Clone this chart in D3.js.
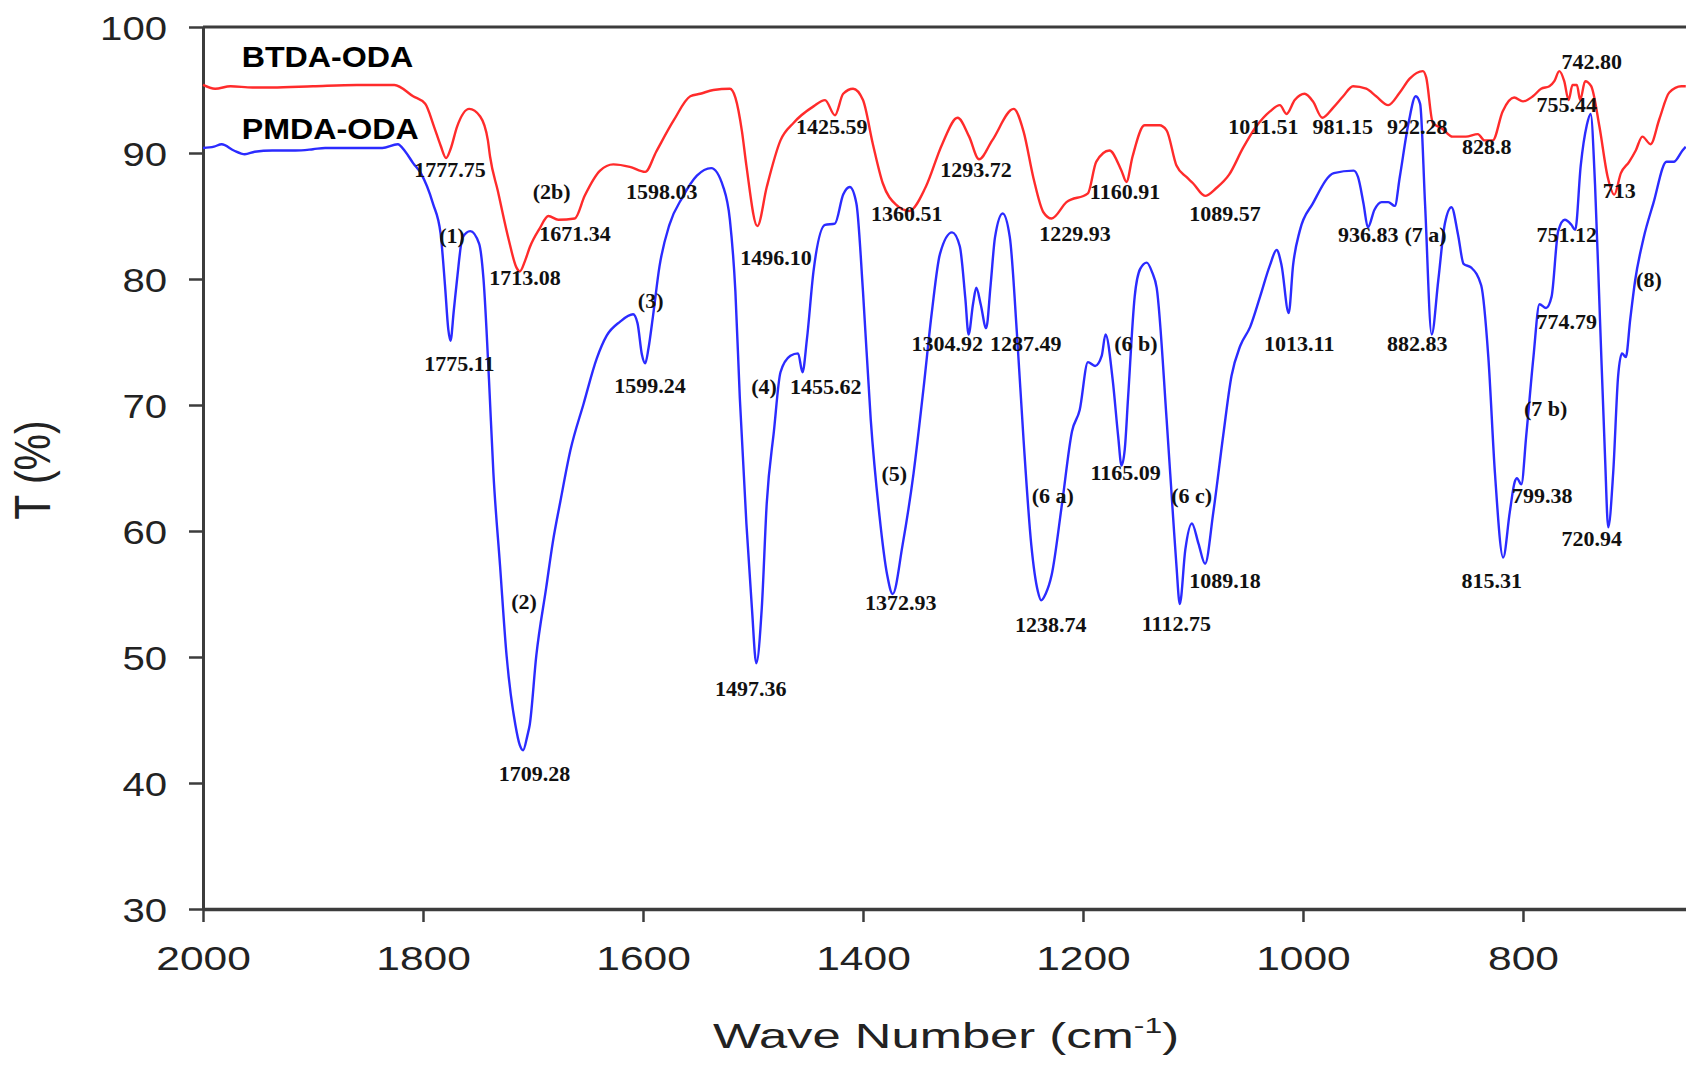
<!DOCTYPE html>
<html>
<head>
<meta charset="utf-8">
<script src="https://cdn.jsdelivr.net/npm/d3@7"></script>
<style>
  html, body { margin: 0; padding: 0; background: #fff; }
  svg { display: block; }
</style>
</head>
<body>
<svg id="chart" width="1686" height="1065"></svg>
<script>
// FTIR transmittance spectra: [wave number (cm-1), T (%)]
const pmdaOda = [
  [2000,90.4],[1990,90.5],[1983,90.7],[1972,90.2],[1962,89.9],[1953,90.1],[1937,90.2],[1916,90.2],
  [1900,90.3],[1889,90.4],[1860,90.4],[1837,90.4],[1823,90.7],[1816,90.1],[1809,89.2],[1802,88.4],
  [1791,86.0],[1784,83.6],[1780,79.5],[1777,76.0],[1775,75.1],[1772,77.5],[1769,80.0],[1764,83.3],
  [1757,83.8],[1749,82.8],[1745,80.0],[1740,72.0],[1736,64.6],[1730,57.3],[1724,50.1],[1716,44.6],
  [1712,43.0],[1709,42.6],[1705,43.8],[1703,44.6],[1697,50.1],[1688,55.5],[1682,59.1],[1675,62.4],
  [1666,66.4],[1654,70.1],[1642,73.7],[1633,75.5],[1621,76.6],[1609,77.2],[1605,76.5],[1601,74.0],
  [1598,73.3],[1595,74.5],[1591,77.0],[1585,81.0],[1576,84.3],[1564,86.5],[1551,88.2],[1538,88.8],
  [1527,87.3],[1521,84.7],[1516,79.0],[1512,70.6],[1506,60.6],[1501,53.9],[1497,49.5],[1492,53.9],
  [1487.5,62.2],[1481,67.9],[1475,72.6],[1466,73.9],[1459,74.1],[1455,72.6],[1451,75.2],[1445,80.6],
  [1434.5,84.3],[1425.5,84.4],[1418,86.7],[1412,87.3],[1406,86.0],[1400,79.0],[1393,68.9],[1385,61.2],
  [1378,56.5],[1373,55.0],[1364,58.9],[1354,64.6],[1345,71.3],[1337.5,77.3],[1330,82.0],[1319,83.7],
  [1312,82.6],[1307,78.5],[1304,75.6],[1300,78.0],[1297,79.3],[1293,78.0],[1288,76.1],[1284,79.5],
  [1280,83.3],[1273,85.2],[1266.5,83.3],[1260,75.6],[1254,67.2],[1247,58.9],[1241,55.2],[1238,54.5],
  [1234,55.0],[1228.5,56.5],[1219,62.2],[1210,67.9],[1203,69.6],[1195.5,73.4],[1189,73.1],[1183,73.9],
  [1179.5,75.6],[1173,72.0],[1168,67.5],[1165,65.2],[1162,66.5],[1159,70.6],[1153,78.6],[1148,80.8],
  [1142,81.3],[1137,80.5],[1133,79.3],[1124,68.9],[1118,61.0],[1115,57.2],[1112,54.2],[1107,58.5],
  [1101,60.6],[1095,59.0],[1089,57.4],[1081.5,61.5],[1072.5,67.6],[1065,72.3],[1057,74.7],[1048,76.2],
  [1039,78.6],[1030,81.1],[1024,82.3],[1019.5,81.1],[1013,77.3],[1009,81.1],[1003,83.8],[991,86.0],
  [972,88.4],[954,88.6],[950,88.1],[945,86.0],[941,84.1],[935,85.5],[928.5,86.1],[922.5,86.1],
  [916.5,85.8],[912,88.1],[904,92.4],[897.5,94.5],[893.5,93.9],[889,85.9],[883,75.6],[877,79.9],
  [871,84.4],[865,85.7],[859,83.5],[854,81.2],[847,80.9],[838,79.5],[831.5,73.8],[825.5,64.6],
  [818,57.9],[812,61.5],[807.5,63.9],[805.5,64.2],[801.5,63.7],[797,67.6],[790.5,73.8],[785,78.0],
  [779,77.7],[774,78.6],[768,83.8],[762,84.7],[756,84.3],[752.5,83.9],[747.5,89.0],[742,92.2],
  [738.5,93.1],[734.5,87.5],[730,76.8],[725.5,66.1],[722.5,60.3],[718,64.6],[713.5,72.3],[710,74.1],
  [706.5,73.8],[702.5,76.8],[698,79.9],[690.5,83.2],[681.5,86.0],[669.5,89.3],[663,89.3],[655,90.2],
  [652,90.5]
];

const btdaOda = [
  [2000,95.4],[1989,95.1],[1975,95.3],[1955,95.2],[1937,95.2],[1900,95.3],[1860,95.4],[1826,95.4],
  [1809,94.5],[1798,93.9],[1790,92.1],[1784,90.6],[1779,89.6],[1775,90.3],[1769,92.1],[1758,93.5],
  [1748,92.9],[1741,91.0],[1739,89.7],[1732,87.0],[1722,83.1],[1715,80.9],[1712,80.6],[1707,81.5],
  [1703,82.5],[1694,84.0],[1686,85.0],[1677,84.7],[1662,84.8],[1653,86.6],[1639,88.6],[1627,89.1],
  [1612,88.9],[1598,88.5],[1588,90.1],[1572,92.6],[1557,94.5],[1548,94.7],[1536,95.0],[1521,95.1],
  [1516,94.4],[1510,91.7],[1506,89.0],[1496,84.2],[1487.5,87.3],[1475,91.0],[1463,92.4],[1445,93.7],
  [1434.5,94.2],[1425.5,93.0],[1418,94.7],[1409,95.1],[1400,94.2],[1391,90.7],[1382,87.6],[1370,85.9],
  [1358,85.4],[1343,87.3],[1328,90.7],[1314,92.8],[1303.5,91.3],[1294.5,89.5],[1282.5,91.0],[1263,93.5],
  [1254,91.7],[1245,88.0],[1236,85.3],[1228.5,84.8],[1215,86.1],[1195.5,86.8],[1188,89.3],[1176,90.2],
  [1165,88.6],[1160.5,87.7],[1155,89.7],[1144,92.2],[1130.5,92.2],[1124,91.8],[1115,89.0],[1106,88.1],
  [1100,87.6],[1089,86.6],[1079,87.2],[1067,88.3],[1054.5,90.4],[1042.5,92.1],[1030,93.3],[1021,93.8],
  [1015,93.1],[1007.5,94.2],[998.5,94.7],[991,94.1],[982.5,92.8],[972.5,93.6],[963.5,94.5],[954.5,95.3],
  [942.5,95.1],[933.5,94.5],[922.5,93.8],[912,94.8],[903,95.9],[891,96.5],[888,96.0],[882,92.4],
  [873,91.9],[864,91.3],[852,91.3],[841,91.5],[835,91.0],[827.5,91.0],[818.5,93.3],[808,94.4],
  [800,94.1],[791,94.5],[783.5,95.1],[776,95.3],[771.5,95.7],[767,96.5],[762.5,95.7],[758.5,94.2],
  [755,95.4],[751,95.4],[748,94.2],[743.5,95.7],[738,95.3],[730.5,92.1],[723,88.1],[717,86.7],
  [711,88.4],[703.5,89.3],[697.5,90.2],[691.5,91.3],[684,90.7],[676,92.7],[667,94.8],[656,95.3],
  [652,95.3]
];

// Axis ticks
const xTicks = [2000, 1800, 1600, 1400, 1200, 1000, 800];
const yTicks = [30, 40, 50, 60, 70, 80, 90, 100];

// Series names with the anchor of their label: [name, wave number, T]
const seriesNames = [
  ["BTDA-ODA", 1964.8, 96.8],
  ["PMDA-ODA", 1964.8, 91.1]
];

// Band annotations for BTDA-ODA: [text, wave number, T] (label baseline centre)
const btdaBands = [
  ["1777.75", 1775.5, 88.1], ["1713.08", 1707.3, 79.54], ["(2b)", 1683.0, 86.35],
  ["1671.34", 1661.8, 83.02], ["1598.03", 1583.0, 86.35], ["1496.10", 1479.1, 81.14],
  ["1425.59", 1428.5, 91.52], ["1360.51", 1360.3, 84.59], ["1293.72", 1297.3, 88.1],
  ["1229.93", 1207.3, 82.98], ["1160.91", 1161.8, 86.33], ["1089.57", 1070.9, 84.6],
  ["1011.51", 1036.1, 91.52], ["981.15", 963.9, 91.52], ["922.28", 896.1, 91.52],
  ["828.8", 833.0, 89.94], ["742.80", 737.5, 96.65], ["755.44", 760.3, 93.23],
  ["713", 712.5, 86.43]
];

// Band annotations for PMDA-ODA: [text, wave number, T]
const pmdaBands = [
  ["(1)", 1773.6, 82.89], ["1775.11", 1767.0, 72.7], ["(2)", 1708.2, 53.77],
  ["1709.28", 1698.7, 40.16], ["(3)", 1593.0, 77.72], ["1599.24", 1593.6, 70.98],
  ["1497.36", 1502.1, 46.88], ["(4)", 1490.0, 70.86], ["1455.62", 1433.9, 70.86],
  ["(5)", 1371.5, 63.99], ["1372.93", 1365.7, 53.75], ["1304.92", 1323.4, 74.29],
  ["1287.49", 1252.1, 74.29], ["(6 a)", 1227.5, 62.22], ["1238.74", 1229.4, 52.01],
  ["(6 b)", 1151.8, 74.29], ["1165.09", 1161.2, 64.06], ["(6 c)", 1101.2, 62.22],
  ["1112.75", 1115.1, 52.06], ["1089.18", 1070.9, 55.44], ["1013.11", 1003.4, 74.3],
  ["936.83", 940.6, 82.91], ["(7 a)", 888.5, 82.91], ["882.83", 896.1, 74.3],
  ["815.31", 828.5, 55.44], ["(7 b)", 779.4, 69.09], ["799.38", 782.5, 62.22],
  ["774.79", 760.3, 76.05], ["751.12", 760.3, 82.91], ["720.94", 737.5, 58.81],
  ["(8)", 685.5, 79.4]
];

const svg = d3.select("#chart");
const W = 1686, H = 1065;
svg.append("rect").attr("width", W).attr("height", H).attr("fill", "#fff");

const x = d3.scaleLinear().domain([2000, 651.8]).range([203, 1686]);
const y = d3.scaleLinear().domain([30, 100]).range([909, 27]);

const axisColor = "#3c3c3c";
const sansFont = "'Liberation Sans', Arial, sans-serif";
const serifFont = "'Liberation Serif', 'Times New Roman', serif";

// Top frame line
svg.append("line")
  .attr("x1", x(2000)).attr("x2", W)
  .attr("y1", y(100)).attr("y2", y(100))
  .attr("stroke", axisColor).attr("stroke-width", 3);

// Y axis
const gy = svg.append("g")
  .attr("transform", `translate(${x(2000)},0)`)
  .call(d3.axisLeft(y).tickValues(yTicks).tickSize(14).tickSizeOuter(0).tickFormat(d3.format("d")));
gy.select(".domain").attr("stroke", axisColor).attr("stroke-width", 3);
gy.selectAll(".tick line").attr("stroke", axisColor).attr("stroke-width", 2.5);
gy.selectAll(".tick text")
  .attr("x", 0).attr("dy", null)
  .attr("transform", "translate(-36,12.5) scale(1.18,1)")
  .attr("text-anchor", "end")
  .attr("fill", "#222")
  .style("font-family", sansFont).style("font-size", "34px");

// X axis
const gx = svg.append("g")
  .attr("transform", `translate(0,${y(30)})`)
  .call(d3.axisBottom(x).tickValues(xTicks).tickSize(13).tickSizeOuter(0).tickFormat(d3.format("d")));
gx.select(".domain").attr("stroke", axisColor).attr("stroke-width", 3.5);
gx.selectAll(".tick line").attr("stroke", axisColor).attr("stroke-width", 2.5);
gx.selectAll(".tick text")
  .attr("y", 0).attr("dy", null)
  .attr("transform", "translate(0,61) scale(1.25,1)")
  .attr("fill", "#222")
  .style("font-family", sansFont).style("font-size", "34px");

// Axis titles
const xTitle = svg.append("text")
  .attr("transform", "translate(946,1048) scale(1.45,1)")
  .attr("text-anchor", "middle")
  .attr("fill", "#222")
  .style("font-family", sansFont).style("font-size", "35px");
xTitle.append("tspan").text("Wave Number (cm");
xTitle.append("tspan").attr("dy", -15).style("font-size", "22px").text("-1");
xTitle.append("tspan").attr("dy", 15).text(")");

svg.append("text")
  .attr("transform", "translate(50,470) rotate(-90) scale(1,1.2)")
  .attr("text-anchor", "middle")
  .attr("fill", "#222")
  .style("font-family", sansFont).style("font-size", "41px")
  .text("T (%)");

// Spectra
const line = d3.line()
  .x(d => x(d[0]))
  .y(d => y(d[1]))
  .curve(d3.curveMonotoneX);

svg.append("path")
  .datum(btdaOda)
  .attr("d", line)
  .attr("fill", "none")
  .attr("stroke", "#ff2b2b")
  .attr("stroke-width", 2.4)
  .attr("stroke-linejoin", "round");

svg.append("path")
  .datum(pmdaOda)
  .attr("d", line)
  .attr("fill", "none")
  .attr("stroke", "#2b2bff")
  .attr("stroke-width", 2.4)
  .attr("stroke-linejoin", "round");

// Series names
svg.selectAll("text.series")
  .data(seriesNames)
  .join("text")
  .attr("class", "series")
  .attr("transform", d => `translate(${x(d[1])},${y(d[2])}) scale(1.11,1)`)
  .attr("fill", "#000")
  .style("font-family", sansFont).style("font-size", "29px").style("font-weight", "bold")
  .text(d => d[0]);

// Band annotations
svg.selectAll("text.band")
  .data(btdaBands.concat(pmdaBands))
  .join("text")
  .attr("class", "band")
  .attr("x", d => x(d[1]))
  .attr("y", d => y(d[2]))
  .attr("text-anchor", "middle")
  .attr("fill", "#111")
  .style("font-family", serifFont).style("font-size", "22px").style("font-weight", "bold")
  .text(d => d[0]);
</script>
</body>
</html>
